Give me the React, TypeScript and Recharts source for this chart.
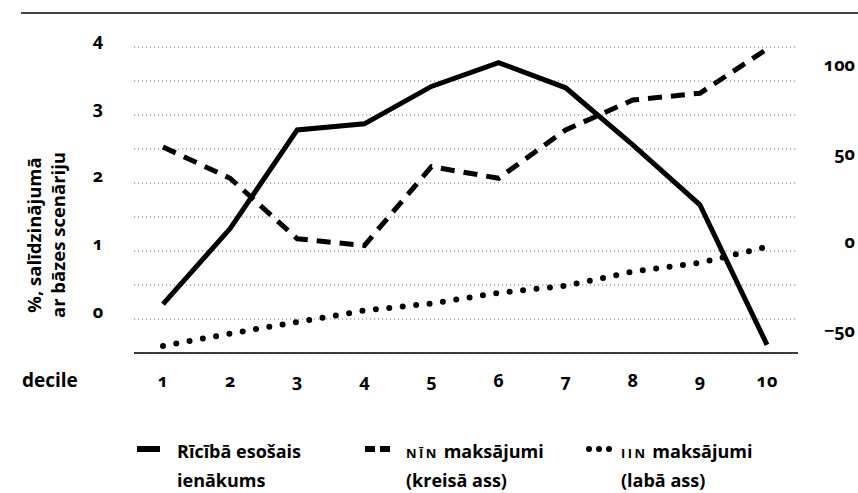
import { CartesianGrid, Line, LineChart, XAxis, YAxis } from "recharts";

const deciles = ["1", "2", "3", "4", "5", "6", "7", "8", "9", "10"];
const disposableIncome = [0.22, 1.33, 2.78, 2.87, 3.42, 3.77, 3.4, 2.56, 1.68, -0.38];
const ninPayments = [2.53, 2.07, 1.18, 1.08, 2.24, 2.07, 2.78, 3.22, 3.32, 3.97];
const iinPayments = [-58, -51, -44.5, -38, -34, -28, -24, -16, -11, -2];

const leftTicks = [-0.5, 0, 0.5, 1, 1.5, 2, 2.5, 3, 3.5, 4];
const rightTicks = [-50, 0, 50, 100];

const data = deciles.map((d, i) => ({
  decile: d,
  income: disposableIncome[i],
  nin: ninPayments[i],
  iin: iinPayments[i],
}));

const FONT = "'Open Sans', sans-serif";

const numStyle = {
  fontFamily: FONT,
  fontWeight: 700,
  fontSize: 18,
  fontVariantNumeric: "oldstyle-nums",
} as const;

function LeftTick({ y, payload }: any) {
  // gridlines every 0.5, labels only on whole numbers
  if (!Number.isInteger(payload.value)) return null;
  return (
    <text x={98} y={y} dy={-1} textAnchor="middle" fill="#000" style={numStyle}>
      {payload.value}
    </text>
  );
}

function RightTick({ y, payload }: any) {
  const v = payload.value < 0 ? "\u2212" + Math.abs(payload.value) : String(payload.value);
  return (
    <text x={855} y={y} dy={5} textAnchor="end" fill="#000" style={numStyle}>
      {v}
    </text>
  );
}

function BottomTick({ x, payload }: any) {
  return (
    <text x={x} y={382} dy={5} textAnchor="middle" fill="#000" style={numStyle}>
      {payload.value}
    </text>
  );
}

const legendText = {
  fontFamily: FONT,
  fontWeight: 700,
  fontSize: 18,
  lineHeight: "20px",
  color: "#000",
  position: "absolute",
  whiteSpace: "nowrap",
} as const;

const smallCaps = { fontSize: 13, letterSpacing: 2.5 };

export default function App() {
  return (
    <div style={{ position: "absolute", left: 0, top: 0, width: 858, height: 493, background: "#fff", overflow: "hidden" }}>
      <div style={{ position: "absolute", left: 21, top: 12, width: 837, height: 2, background: "#444" }} />
      <LineChart
        width={858}
        height={493}
        data={data}
        margin={{ top: 47, right: 30, bottom: 110, left: 104 }}
      >
        <CartesianGrid
          yAxisId="left"
          vertical={false}
          stroke="#777"
          strokeDasharray="1.2 2.8"
        />
        <XAxis
          dataKey="decile"
          height={30}
          padding={{ left: 29, right: 31 }}
          axisLine={{ stroke: "#000", strokeWidth: 1.5 }}
          tickLine={false}
          tick={<BottomTick />}
          interval={0}
        />
        <YAxis
          yAxisId="left"
          width={30}
          domain={[-0.5, 4]}
          ticks={leftTicks}
          axisLine={false}
          tickLine={false}
          tick={<LeftTick />}
          interval={0}
        />
        <YAxis
          yAxisId="right"
          orientation="right"
          width={30}
          domain={[-62, 111]}
          ticks={rightTicks}
          axisLine={false}
          tickLine={false}
          tick={<RightTick />}
          interval={0}
        />
        <Line
          yAxisId="left"
          dataKey="income"
          stroke="#000"
          strokeWidth={5}
          dot={false}
          type="linear"
          isAnimationActive={false}
        />
        <Line
          yAxisId="left"
          dataKey="nin"
          stroke="#000"
          strokeWidth={5}
          strokeDasharray="14 9"
          dot={false}
          type="linear"
          isAnimationActive={false}
        />
        <Line
          yAxisId="right"
          dataKey="iin"
          stroke="#000"
          strokeWidth={6}
          strokeDasharray="0 13.5"
          strokeLinecap="round"
          dot={false}
          type="linear"
          isAnimationActive={false}
        />
        <text
          transform="translate(41,235) rotate(-90)"
          textAnchor="middle"
          fill="#000"
          style={{ fontFamily: FONT, fontWeight: 700, fontSize: 18.5 }}
        >
          <tspan x={0} dy={0}>%, salīdzinājumā</tspan>
          <tspan x={0} dy={24}>ar bāzes scenāriju</tspan>
        </text>
        <text
          x={22}
          y={387}
          fill="#000"
          style={{ fontFamily: FONT, fontWeight: 700, fontSize: 19 }}
        >
          decile
        </text>
      </LineChart>

      <svg style={{ position: "absolute", left: 137, top: 444 }} width={24} height={10}>
        <line x1={0} y1={5} x2={23} y2={5} stroke="#000" strokeWidth={6} />
      </svg>
      <div style={{ ...legendText, left: 177, top: 441 }}>Rīcībā esošais</div>
      <div style={{ ...legendText, left: 177, top: 470 }}>ienākums</div>

      <svg style={{ position: "absolute", left: 365, top: 444 }} width={26} height={10}>
        <line x1={0} y1={5} x2={25} y2={5} stroke="#000" strokeWidth={6} strokeDasharray="10 5" />
      </svg>
      <div style={{ ...legendText, left: 406, top: 441 }}>
        <span style={smallCaps}>NĪN</span> maksājumi
      </div>
      <div style={{ ...legendText, left: 406, top: 470 }}>(kreisā ass)</div>

      <svg style={{ position: "absolute", left: 586, top: 444 }} width={28} height={10}>
        <line x1={3} y1={5} x2={24} y2={5} stroke="#000" strokeWidth={6} strokeDasharray="0 10" strokeLinecap="round" />
      </svg>
      <div style={{ ...legendText, left: 621, top: 441 }}>
        <span style={smallCaps}>IIN</span> maksājumi
      </div>
      <div style={{ ...legendText, left: 621, top: 470 }}>(labā ass)</div>
    </div>
  );
}
